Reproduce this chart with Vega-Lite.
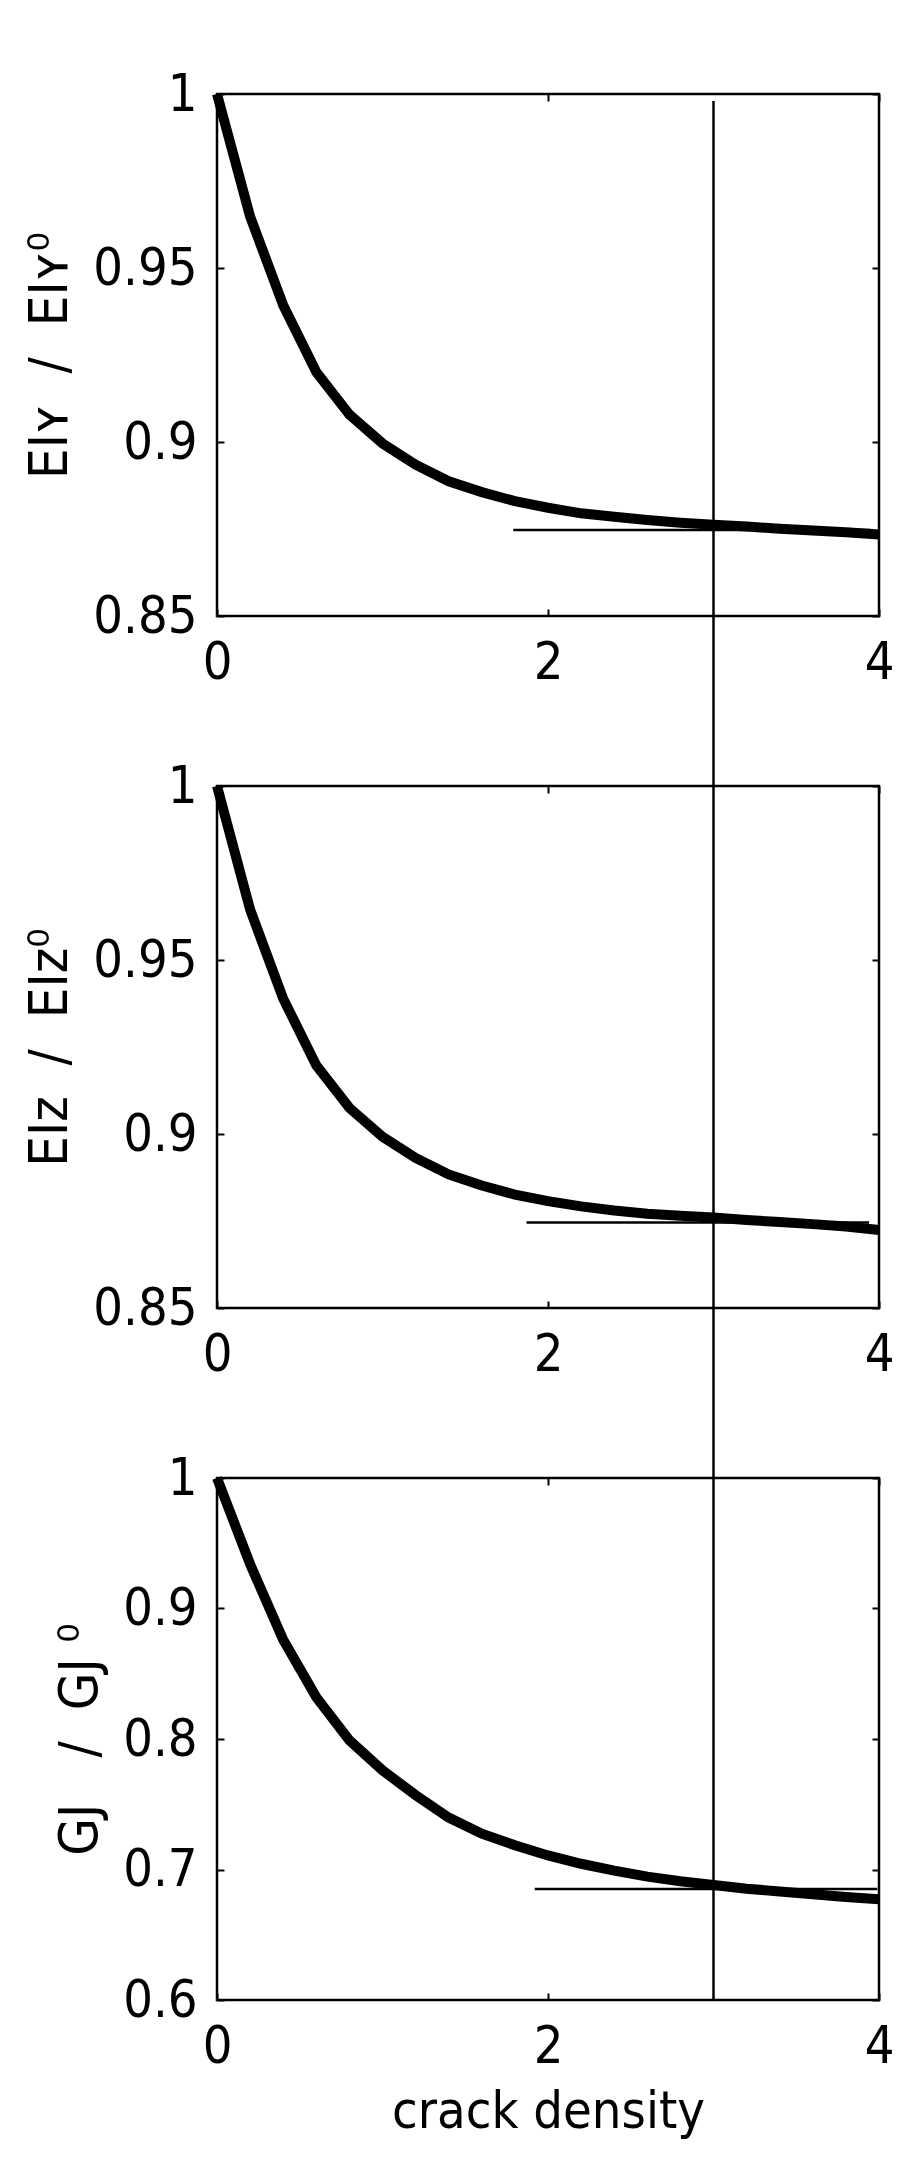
{
  "$schema": "https://vega.github.io/schema/vega-lite/v6.json",
  "background": "white",
  "padding": {"left": 22, "top": 66, "right": 5, "bottom": 5},
  "datasets": {
    "eiy": [
      {"d": 0, "r": 1.0}, {"d": 0.2, "r": 0.9648}, {"d": 0.4, "r": 0.9393}, {"d": 0.6, "r": 0.9201},
      {"d": 0.8, "r": 0.9079}, {"d": 1.0, "r": 0.8996}, {"d": 1.2, "r": 0.8935}, {"d": 1.4, "r": 0.8887},
      {"d": 1.6, "r": 0.8856}, {"d": 1.8, "r": 0.883}, {"d": 2.0, "r": 0.8811}, {"d": 2.2, "r": 0.8795},
      {"d": 2.4, "r": 0.8785}, {"d": 2.6, "r": 0.8776}, {"d": 2.8, "r": 0.8768}, {"d": 3.0, "r": 0.8762},
      {"d": 3.2, "r": 0.8757}, {"d": 3.4, "r": 0.8751}, {"d": 3.6, "r": 0.8746}, {"d": 3.8, "r": 0.8741},
      {"d": 4.0, "r": 0.8734}
    ],
    "eiz": [
      {"d": 0, "r": 1.0}, {"d": 0.2, "r": 0.9645}, {"d": 0.4, "r": 0.9389}, {"d": 0.6, "r": 0.9197},
      {"d": 0.8, "r": 0.9075}, {"d": 1.0, "r": 0.8992}, {"d": 1.2, "r": 0.8931}, {"d": 1.4, "r": 0.8884},
      {"d": 1.6, "r": 0.8852}, {"d": 1.8, "r": 0.8826}, {"d": 2.0, "r": 0.8807}, {"d": 2.2, "r": 0.8792},
      {"d": 2.4, "r": 0.878}, {"d": 2.6, "r": 0.8771}, {"d": 2.8, "r": 0.8765}, {"d": 3.0, "r": 0.876},
      {"d": 3.2, "r": 0.8753}, {"d": 3.4, "r": 0.8747}, {"d": 3.6, "r": 0.8741}, {"d": 3.8, "r": 0.8734},
      {"d": 4.0, "r": 0.8724}
    ],
    "gj": [
      {"d": 0, "r": 1.0}, {"d": 0.2, "r": 0.934}, {"d": 0.4, "r": 0.876}, {"d": 0.6, "r": 0.832},
      {"d": 0.8, "r": 0.799}, {"d": 1.0, "r": 0.776}, {"d": 1.2, "r": 0.757}, {"d": 1.4, "r": 0.7398},
      {"d": 1.6, "r": 0.7274}, {"d": 1.8, "r": 0.7186}, {"d": 2.0, "r": 0.7108}, {"d": 2.2, "r": 0.7044},
      {"d": 2.4, "r": 0.6991}, {"d": 2.6, "r": 0.6945}, {"d": 2.8, "r": 0.691}, {"d": 3.0, "r": 0.6881},
      {"d": 3.2, "r": 0.6853}, {"d": 3.4, "r": 0.6832}, {"d": 3.6, "r": 0.6811}, {"d": 3.8, "r": 0.679},
      {"d": 4.0, "r": 0.6772}
    ],
    "eiyLevel": [{"from": 1.79, "to": 3.95, "r": 0.8747}],
    "eizLevel": [{"from": 1.87, "to": 3.94, "r": 0.8746}],
    "gjLevel": [{"from": 1.92, "to": 3.99, "r": 0.685}],
    "eiyMark": [{"d": 3, "top": 0.998, "bottom": 0.8012}],
    "eizMark": [{"d": 3, "top": 1.0, "bottom": 0.8012}],
    "gjMark": [{"d": 3, "top": 1.0, "bottom": 0.6}]
  },
  "vconcat": [
    {
      "width": 662,
      "height": 522,
      "layer": [
        {
          "data": {"name": "eiy"},
          "mark": {"type": "line", "color": "black", "strokeWidth": 10, "clip": false},
          "encoding": {
            "x": {"field": "d", "type": "quantitative", "scale": {"domain": [0, 4], "nice": false},
                  "axis": {"values": [0, 2, 4], "title": null}},
            "y": {"field": "r", "type": "quantitative", "scale": {"domain": [0.85, 1], "nice": false, "zero": false},
                  "axis": {"values": [0.85, 0.9, 0.95, 1], "title": "EIʏ\u00a0 / \u00a0EIʏ⁰"}}
          }
        },
        {
          "data": {"name": "eiyLevel"},
          "mark": {"type": "rule", "color": "black", "strokeWidth": 2.5},
          "encoding": {
            "x": {"field": "from", "type": "quantitative", "scale": {"domain": [0, 4], "nice": false},
                  "axis": {"orient": "top", "labels": false, "values": [0, 2, 4], "title": null}},
            "x2": {"field": "to"},
            "y": {"field": "r", "type": "quantitative", "scale": {"domain": [0.85, 1], "nice": false, "zero": false},
                  "axis": {"orient": "right", "labels": false, "values": [0.85, 0.9, 0.95, 1], "title": null}}
          }
        },
        {
          "data": {"name": "eiyMark"},
          "mark": {"type": "rule", "color": "black", "strokeWidth": 2.5, "clip": false},
          "encoding": {
            "x": {"field": "d", "type": "quantitative", "scale": {"domain": [0, 4], "nice": false}, "axis": null},
            "y": {"field": "top", "type": "quantitative", "scale": {"domain": [0.85, 1], "nice": false, "zero": false}, "axis": null},
            "y2": {"field": "bottom"}
          }
        }
      ],
      "resolve": {"axis": {"x": "independent", "y": "independent"}}
    },
    {
      "width": 662,
      "height": 522,
      "layer": [
        {
          "data": {"name": "eiz"},
          "mark": {"type": "line", "color": "black", "strokeWidth": 10, "clip": false},
          "encoding": {
            "x": {"field": "d", "type": "quantitative", "scale": {"domain": [0, 4], "nice": false},
                  "axis": {"values": [0, 2, 4], "title": null}},
            "y": {"field": "r", "type": "quantitative", "scale": {"domain": [0.85, 1], "nice": false, "zero": false},
                  "axis": {"values": [0.85, 0.9, 0.95, 1], "title": "EIᴢ\u00a0 / \u00a0EIᴢ⁰"}}
          }
        },
        {
          "data": {"name": "eizLevel"},
          "mark": {"type": "rule", "color": "black", "strokeWidth": 2.5},
          "encoding": {
            "x": {"field": "from", "type": "quantitative", "scale": {"domain": [0, 4], "nice": false},
                  "axis": {"orient": "top", "labels": false, "values": [0, 2, 4], "title": null}},
            "x2": {"field": "to"},
            "y": {"field": "r", "type": "quantitative", "scale": {"domain": [0.85, 1], "nice": false, "zero": false},
                  "axis": {"orient": "right", "labels": false, "values": [0.85, 0.9, 0.95, 1], "title": null}}
          }
        },
        {
          "data": {"name": "eizMark"},
          "mark": {"type": "rule", "color": "black", "strokeWidth": 2.5, "clip": false},
          "encoding": {
            "x": {"field": "d", "type": "quantitative", "scale": {"domain": [0, 4], "nice": false}, "axis": null},
            "y": {"field": "top", "type": "quantitative", "scale": {"domain": [0.85, 1], "nice": false, "zero": false}, "axis": null},
            "y2": {"field": "bottom"}
          }
        }
      ],
      "resolve": {"axis": {"x": "independent", "y": "independent"}}
    },
    {
      "width": 662,
      "height": 522,
      "layer": [
        {
          "data": {"name": "gj"},
          "mark": {"type": "line", "color": "black", "strokeWidth": 10, "clip": false},
          "encoding": {
            "x": {"field": "d", "type": "quantitative", "scale": {"domain": [0, 4], "nice": false},
                  "axis": {"values": [0, 2, 4], "title": "crack density"}},
            "y": {"field": "r", "type": "quantitative", "scale": {"domain": [0.6, 1], "nice": false, "zero": false},
                  "axis": {"values": [0.6, 0.7, 0.8, 0.9, 1], "title": "GJ\u00a0\u00a0 / \u00a0GJ\u00a0⁰"}}
          }
        },
        {
          "data": {"name": "gjLevel"},
          "mark": {"type": "rule", "color": "black", "strokeWidth": 2.5},
          "encoding": {
            "x": {"field": "from", "type": "quantitative", "scale": {"domain": [0, 4], "nice": false},
                  "axis": {"orient": "top", "labels": false, "values": [0, 2, 4], "title": null}},
            "x2": {"field": "to"},
            "y": {"field": "r", "type": "quantitative", "scale": {"domain": [0.6, 1], "nice": false, "zero": false},
                  "axis": {"orient": "right", "labels": false, "values": [0.6, 0.7, 0.8, 0.9, 1], "title": null}}
          }
        },
        {
          "data": {"name": "gjMark"},
          "mark": {"type": "rule", "color": "black", "strokeWidth": 2.5, "clip": false},
          "encoding": {
            "x": {"field": "d", "type": "quantitative", "scale": {"domain": [0, 4], "nice": false}, "axis": null},
            "y": {"field": "top", "type": "quantitative", "scale": {"domain": [0.6, 1], "nice": false, "zero": false}, "axis": null},
            "y2": {"field": "bottom"}
          }
        }
      ],
      "resolve": {"axis": {"x": "independent", "y": "independent"}}
    }
  ],
  "spacing": 170,
  "bounds": "flush",
  "config": {
    "view": {"stroke": "black", "strokeWidth": 2.5},
    "font": "DejaVu Sans Condensed, DejaVu Sans",
    "axis": {
      "domain": false,
      "grid": false,
      "ticks": true,
      "tickSize": -7,
      "tickWidth": 2,
      "tickColor": "black",
      "format": "~g",
      "labelFont": "DejaVu Sans Condensed, DejaVu Sans",
      "labelFontSize": 52,
      "labelColor": "black",
      "labelFlush": false,
      "labelOverlap": false,
      "titleFont": "DejaVu Sans Condensed, DejaVu Sans",
      "titleFontSize": 54,
      "titleFontWeight": "normal",
      "titleColor": "black"
    },
    "axisX": {"labelPadding": 28, "titlePadding": 14, "titleFontSize": 52},
    "axisY": {"labelPadding": 27, "titlePadding": 15}
  }
}
